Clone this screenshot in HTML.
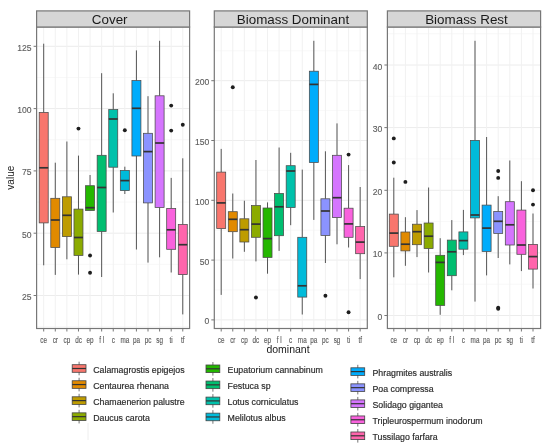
<!DOCTYPE html>
<html><head><meta charset="utf-8"><title>plot</title>
<style>
html,body{margin:0;padding:0;background:#fff;}
body{width:550px;height:448px;overflow:hidden;}
svg{display:block;filter:blur(0.35px);font-family:"Liberation Sans",sans-serif;}
</style></head>
<body>
<svg width="550" height="448" viewBox="0 0 550 448">
<rect width="550" height="448" fill="#fff"/>
<rect x="36.6" y="27" width="153" height="301.5" fill="#fff"/>
<line x1="36.6" x2="189.6" y1="77.45" y2="77.45" stroke="#f3f3f3" stroke-width="0.6"/>
<line x1="36.6" x2="189.6" y1="139.75" y2="139.75" stroke="#f3f3f3" stroke-width="0.6"/>
<line x1="36.6" x2="189.6" y1="202.05" y2="202.05" stroke="#f3f3f3" stroke-width="0.6"/>
<line x1="36.6" x2="189.6" y1="264.35" y2="264.35" stroke="#f3f3f3" stroke-width="0.6"/>
<line x1="36.6" x2="189.6" y1="326.65" y2="326.65" stroke="#f3f3f3" stroke-width="0.6"/>
<line x1="36.6" x2="189.6" y1="46.3" y2="46.3" stroke="#ececec" stroke-width="1"/>
<line x1="36.6" x2="189.6" y1="108.6" y2="108.6" stroke="#ececec" stroke-width="1"/>
<line x1="36.6" x2="189.6" y1="170.9" y2="170.9" stroke="#ececec" stroke-width="1"/>
<line x1="36.6" x2="189.6" y1="233.2" y2="233.2" stroke="#ececec" stroke-width="1"/>
<line x1="36.6" x2="189.6" y1="295.5" y2="295.5" stroke="#ececec" stroke-width="1"/>
<line x1="43.7" x2="43.7" y1="27" y2="328.5" stroke="#f1f1f1" stroke-width="1"/>
<line x1="55.29" x2="55.29" y1="27" y2="328.5" stroke="#f1f1f1" stroke-width="1"/>
<line x1="66.88" x2="66.88" y1="27" y2="328.5" stroke="#f1f1f1" stroke-width="1"/>
<line x1="78.47" x2="78.47" y1="27" y2="328.5" stroke="#f1f1f1" stroke-width="1"/>
<line x1="90.06" x2="90.06" y1="27" y2="328.5" stroke="#f1f1f1" stroke-width="1"/>
<line x1="101.65" x2="101.65" y1="27" y2="328.5" stroke="#f1f1f1" stroke-width="1"/>
<line x1="113.24" x2="113.24" y1="27" y2="328.5" stroke="#f1f1f1" stroke-width="1"/>
<line x1="124.83" x2="124.83" y1="27" y2="328.5" stroke="#f1f1f1" stroke-width="1"/>
<line x1="136.42" x2="136.42" y1="27" y2="328.5" stroke="#f1f1f1" stroke-width="1"/>
<line x1="148.01" x2="148.01" y1="27" y2="328.5" stroke="#f1f1f1" stroke-width="1"/>
<line x1="159.6" x2="159.6" y1="27" y2="328.5" stroke="#f1f1f1" stroke-width="1"/>
<line x1="171.19" x2="171.19" y1="27" y2="328.5" stroke="#f1f1f1" stroke-width="1"/>
<line x1="182.78" x2="182.78" y1="27" y2="328.5" stroke="#f1f1f1" stroke-width="1"/>
<line x1="43.7" x2="43.7" y1="43.7" y2="112.5" stroke="#555" stroke-width="1"/>
<line x1="43.7" x2="43.7" y1="222.9" y2="265.3" stroke="#555" stroke-width="1"/>
<rect x="39.2" y="112.5" width="9" height="110.4" fill="#F8766D" stroke="#4a4a4a" stroke-width="0.75"/>
<line x1="39.2" x2="48.2" y1="167.8" y2="167.8" stroke="#333" stroke-width="1.7"/>
<line x1="55.29" x2="55.29" y1="162.7" y2="198.3" stroke="#555" stroke-width="1"/>
<line x1="55.29" x2="55.29" y1="247.4" y2="274.9" stroke="#555" stroke-width="1"/>
<rect x="50.79" y="198.3" width="9" height="49.1" fill="#E18A00" stroke="#4a4a4a" stroke-width="0.75"/>
<line x1="50.79" x2="59.79" y1="220" y2="220" stroke="#333" stroke-width="1.7"/>
<line x1="66.88" x2="66.88" y1="141.5" y2="196.8" stroke="#555" stroke-width="1"/>
<line x1="66.88" x2="66.88" y1="236.6" y2="259.3" stroke="#555" stroke-width="1"/>
<rect x="62.38" y="196.8" width="9" height="39.8" fill="#BE9C00" stroke="#4a4a4a" stroke-width="0.75"/>
<line x1="62.38" x2="71.38" y1="215.3" y2="215.3" stroke="#333" stroke-width="1.7"/>
<line x1="78.47" x2="78.47" y1="155.6" y2="209.1" stroke="#555" stroke-width="1"/>
<line x1="78.47" x2="78.47" y1="255.4" y2="274.6" stroke="#555" stroke-width="1"/>
<rect x="73.97" y="209.1" width="9" height="46.3" fill="#8CAB00" stroke="#4a4a4a" stroke-width="0.75"/>
<line x1="73.97" x2="82.97" y1="237.5" y2="237.5" stroke="#333" stroke-width="1.7"/>
<circle cx="78.47" cy="128.6" r="1.95" fill="#1e1e1e"/>
<line x1="90.06" x2="90.06" y1="175" y2="185.7" stroke="#555" stroke-width="1"/>
<line x1="90.06" x2="90.06" y1="210.5" y2="210.5" stroke="#555" stroke-width="1"/>
<rect x="85.56" y="185.7" width="9" height="24.8" fill="#24B700" stroke="#4a4a4a" stroke-width="0.75"/>
<line x1="85.56" x2="94.56" y1="207.7" y2="207.7" stroke="#333" stroke-width="1.7"/>
<circle cx="90.06" cy="255.5" r="1.95" fill="#1e1e1e"/>
<circle cx="90.06" cy="272.8" r="1.95" fill="#1e1e1e"/>
<line x1="101.65" x2="101.65" y1="73.2" y2="155.3" stroke="#555" stroke-width="1"/>
<line x1="101.65" x2="101.65" y1="231.4" y2="277" stroke="#555" stroke-width="1"/>
<rect x="97.15" y="155.3" width="9" height="76.1" fill="#00BE70" stroke="#4a4a4a" stroke-width="0.75"/>
<line x1="97.15" x2="106.15" y1="187.5" y2="187.5" stroke="#333" stroke-width="1.7"/>
<line x1="113.24" x2="113.24" y1="93.3" y2="109.6" stroke="#555" stroke-width="1"/>
<line x1="113.24" x2="113.24" y1="167.2" y2="212.5" stroke="#555" stroke-width="1"/>
<rect x="108.74" y="109.6" width="9" height="57.6" fill="#00C1AB" stroke="#4a4a4a" stroke-width="0.75"/>
<line x1="108.74" x2="117.74" y1="119" y2="119" stroke="#333" stroke-width="1.7"/>
<line x1="124.83" x2="124.83" y1="166.7" y2="170.5" stroke="#555" stroke-width="1"/>
<line x1="124.83" x2="124.83" y1="190.6" y2="194" stroke="#555" stroke-width="1"/>
<rect x="120.33" y="170.5" width="9" height="20.1" fill="#00BBDA" stroke="#4a4a4a" stroke-width="0.75"/>
<line x1="120.33" x2="129.33" y1="180.6" y2="180.6" stroke="#333" stroke-width="1.7"/>
<circle cx="124.83" cy="130.3" r="1.95" fill="#1e1e1e"/>
<line x1="136.42" x2="136.42" y1="50.4" y2="80.6" stroke="#555" stroke-width="1"/>
<line x1="136.42" x2="136.42" y1="156" y2="249.5" stroke="#555" stroke-width="1"/>
<rect x="131.92" y="80.6" width="9" height="75.4" fill="#00ACFC" stroke="#4a4a4a" stroke-width="0.75"/>
<line x1="131.92" x2="140.92" y1="108.3" y2="108.3" stroke="#333" stroke-width="1.7"/>
<line x1="148.01" x2="148.01" y1="96.2" y2="133.3" stroke="#555" stroke-width="1"/>
<line x1="148.01" x2="148.01" y1="202.9" y2="262.6" stroke="#555" stroke-width="1"/>
<rect x="143.51" y="133.3" width="9" height="69.6" fill="#8B93FF" stroke="#4a4a4a" stroke-width="0.75"/>
<line x1="143.51" x2="152.51" y1="151.6" y2="151.6" stroke="#333" stroke-width="1.7"/>
<line x1="159.6" x2="159.6" y1="40.8" y2="95.8" stroke="#555" stroke-width="1"/>
<line x1="159.6" x2="159.6" y1="207.4" y2="257.3" stroke="#555" stroke-width="1"/>
<rect x="155.1" y="95.8" width="9" height="111.6" fill="#D575FE" stroke="#4a4a4a" stroke-width="0.75"/>
<line x1="155.1" x2="164.1" y1="143" y2="143" stroke="#333" stroke-width="1.7"/>
<line x1="171.19" x2="171.19" y1="177.9" y2="208.5" stroke="#555" stroke-width="1"/>
<line x1="171.19" x2="171.19" y1="249.3" y2="272.5" stroke="#555" stroke-width="1"/>
<rect x="166.69" y="208.5" width="9" height="40.8" fill="#F962DD" stroke="#4a4a4a" stroke-width="0.75"/>
<line x1="166.69" x2="175.69" y1="229.8" y2="229.8" stroke="#333" stroke-width="1.7"/>
<circle cx="171.19" cy="105.6" r="1.95" fill="#1e1e1e"/>
<circle cx="171.19" cy="130.6" r="1.95" fill="#1e1e1e"/>
<line x1="182.78" x2="182.78" y1="158.3" y2="224.5" stroke="#555" stroke-width="1"/>
<line x1="182.78" x2="182.78" y1="274.6" y2="314.4" stroke="#555" stroke-width="1"/>
<rect x="178.28" y="224.5" width="9" height="50.1" fill="#FF65AC" stroke="#4a4a4a" stroke-width="0.75"/>
<line x1="178.28" x2="187.28" y1="244.7" y2="244.7" stroke="#333" stroke-width="1.7"/>
<circle cx="182.78" cy="124.8" r="1.95" fill="#1e1e1e"/>
<rect x="36.6" y="27" width="153" height="301.5" fill="none" stroke="#777777" stroke-width="1.2"/>
<rect x="36.6" y="10.9" width="153" height="16.1" fill="#d6d6d6" stroke="#777777" stroke-width="1.2"/>
<text x="109.7" y="23.5" font-size="13.4" text-anchor="middle" fill="#1a1a1a">Cover</text>
<line x1="33.6" x2="36.6" y1="46.3" y2="46.3" stroke="#777777" stroke-width="1"/>
<text x="31.6" y="50.8" font-size="8.6" text-anchor="end" fill="#5c5c5c" stroke="#5c5c5c" stroke-width="0.12">125</text>
<line x1="33.6" x2="36.6" y1="108.6" y2="108.6" stroke="#777777" stroke-width="1"/>
<text x="31.6" y="113.1" font-size="8.6" text-anchor="end" fill="#5c5c5c" stroke="#5c5c5c" stroke-width="0.12">100</text>
<line x1="33.6" x2="36.6" y1="170.9" y2="170.9" stroke="#777777" stroke-width="1"/>
<text x="31.6" y="175.4" font-size="8.6" text-anchor="end" fill="#5c5c5c" stroke="#5c5c5c" stroke-width="0.12">75</text>
<line x1="33.6" x2="36.6" y1="233.2" y2="233.2" stroke="#777777" stroke-width="1"/>
<text x="31.6" y="237.7" font-size="8.6" text-anchor="end" fill="#5c5c5c" stroke="#5c5c5c" stroke-width="0.12">50</text>
<line x1="33.6" x2="36.6" y1="295.5" y2="295.5" stroke="#777777" stroke-width="1"/>
<text x="31.6" y="300" font-size="8.6" text-anchor="end" fill="#5c5c5c" stroke="#5c5c5c" stroke-width="0.12">25</text>
<line x1="43.7" x2="43.7" y1="328.5" y2="331.5" stroke="#777777" stroke-width="1"/>
<text transform="translate(43.7 343.1) scale(0.72 1)" font-size="8.8" text-anchor="middle" fill="#5c5c5c" stroke="#5c5c5c" stroke-width="0.15">ce</text>
<line x1="55.29" x2="55.29" y1="328.5" y2="331.5" stroke="#777777" stroke-width="1"/>
<text transform="translate(55.29 343.1) scale(0.72 1)" font-size="8.8" text-anchor="middle" fill="#5c5c5c" stroke="#5c5c5c" stroke-width="0.15">cr</text>
<line x1="66.88" x2="66.88" y1="328.5" y2="331.5" stroke="#777777" stroke-width="1"/>
<text transform="translate(66.88 343.1) scale(0.72 1)" font-size="8.8" text-anchor="middle" fill="#5c5c5c" stroke="#5c5c5c" stroke-width="0.15">cp</text>
<line x1="78.47" x2="78.47" y1="328.5" y2="331.5" stroke="#777777" stroke-width="1"/>
<text transform="translate(78.47 343.1) scale(0.72 1)" font-size="8.8" text-anchor="middle" fill="#5c5c5c" stroke="#5c5c5c" stroke-width="0.15">dc</text>
<line x1="90.06" x2="90.06" y1="328.5" y2="331.5" stroke="#777777" stroke-width="1"/>
<text transform="translate(90.06 343.1) scale(0.72 1)" font-size="8.8" text-anchor="middle" fill="#5c5c5c" stroke="#5c5c5c" stroke-width="0.15">ep</text>
<line x1="101.65" x2="101.65" y1="328.5" y2="331.5" stroke="#777777" stroke-width="1"/>
<text transform="translate(101.65 343.1) scale(0.72 1)" font-size="8.8" text-anchor="middle" fill="#5c5c5c" stroke="#5c5c5c" stroke-width="0.15">f l</text>
<line x1="113.24" x2="113.24" y1="328.5" y2="331.5" stroke="#777777" stroke-width="1"/>
<text transform="translate(113.24 343.1) scale(0.72 1)" font-size="8.8" text-anchor="middle" fill="#5c5c5c" stroke="#5c5c5c" stroke-width="0.15">c</text>
<line x1="124.83" x2="124.83" y1="328.5" y2="331.5" stroke="#777777" stroke-width="1"/>
<text transform="translate(124.83 343.1) scale(0.72 1)" font-size="8.8" text-anchor="middle" fill="#5c5c5c" stroke="#5c5c5c" stroke-width="0.15">ma</text>
<line x1="136.42" x2="136.42" y1="328.5" y2="331.5" stroke="#777777" stroke-width="1"/>
<text transform="translate(136.42 343.1) scale(0.72 1)" font-size="8.8" text-anchor="middle" fill="#5c5c5c" stroke="#5c5c5c" stroke-width="0.15">pa</text>
<line x1="148.01" x2="148.01" y1="328.5" y2="331.5" stroke="#777777" stroke-width="1"/>
<text transform="translate(148.01 343.1) scale(0.72 1)" font-size="8.8" text-anchor="middle" fill="#5c5c5c" stroke="#5c5c5c" stroke-width="0.15">pc</text>
<line x1="159.6" x2="159.6" y1="328.5" y2="331.5" stroke="#777777" stroke-width="1"/>
<text transform="translate(159.6 343.1) scale(0.72 1)" font-size="8.8" text-anchor="middle" fill="#5c5c5c" stroke="#5c5c5c" stroke-width="0.15">sg</text>
<line x1="171.19" x2="171.19" y1="328.5" y2="331.5" stroke="#777777" stroke-width="1"/>
<text transform="translate(171.19 343.1) scale(0.72 1)" font-size="8.8" text-anchor="middle" fill="#5c5c5c" stroke="#5c5c5c" stroke-width="0.15">ti</text>
<line x1="182.78" x2="182.78" y1="328.5" y2="331.5" stroke="#777777" stroke-width="1"/>
<text transform="translate(182.78 343.1) scale(0.72 1)" font-size="8.8" text-anchor="middle" fill="#5c5c5c" stroke="#5c5c5c" stroke-width="0.15">tf</text>
<rect x="214.3" y="27" width="153" height="301.5" fill="#fff"/>
<line x1="214.3" x2="367.3" y1="50.8" y2="50.8" stroke="#f3f3f3" stroke-width="0.6"/>
<line x1="214.3" x2="367.3" y1="110.6" y2="110.6" stroke="#f3f3f3" stroke-width="0.6"/>
<line x1="214.3" x2="367.3" y1="170.4" y2="170.4" stroke="#f3f3f3" stroke-width="0.6"/>
<line x1="214.3" x2="367.3" y1="230.2" y2="230.2" stroke="#f3f3f3" stroke-width="0.6"/>
<line x1="214.3" x2="367.3" y1="290" y2="290" stroke="#f3f3f3" stroke-width="0.6"/>
<line x1="214.3" x2="367.3" y1="80.7" y2="80.7" stroke="#ececec" stroke-width="1"/>
<line x1="214.3" x2="367.3" y1="140.5" y2="140.5" stroke="#ececec" stroke-width="1"/>
<line x1="214.3" x2="367.3" y1="200.3" y2="200.3" stroke="#ececec" stroke-width="1"/>
<line x1="214.3" x2="367.3" y1="260.1" y2="260.1" stroke="#ececec" stroke-width="1"/>
<line x1="214.3" x2="367.3" y1="319.9" y2="319.9" stroke="#ececec" stroke-width="1"/>
<line x1="221.2" x2="221.2" y1="27" y2="328.5" stroke="#f1f1f1" stroke-width="1"/>
<line x1="232.78" x2="232.78" y1="27" y2="328.5" stroke="#f1f1f1" stroke-width="1"/>
<line x1="244.36" x2="244.36" y1="27" y2="328.5" stroke="#f1f1f1" stroke-width="1"/>
<line x1="255.94" x2="255.94" y1="27" y2="328.5" stroke="#f1f1f1" stroke-width="1"/>
<line x1="267.52" x2="267.52" y1="27" y2="328.5" stroke="#f1f1f1" stroke-width="1"/>
<line x1="279.1" x2="279.1" y1="27" y2="328.5" stroke="#f1f1f1" stroke-width="1"/>
<line x1="290.68" x2="290.68" y1="27" y2="328.5" stroke="#f1f1f1" stroke-width="1"/>
<line x1="302.26" x2="302.26" y1="27" y2="328.5" stroke="#f1f1f1" stroke-width="1"/>
<line x1="313.84" x2="313.84" y1="27" y2="328.5" stroke="#f1f1f1" stroke-width="1"/>
<line x1="325.42" x2="325.42" y1="27" y2="328.5" stroke="#f1f1f1" stroke-width="1"/>
<line x1="337" x2="337" y1="27" y2="328.5" stroke="#f1f1f1" stroke-width="1"/>
<line x1="348.58" x2="348.58" y1="27" y2="328.5" stroke="#f1f1f1" stroke-width="1"/>
<line x1="360.16" x2="360.16" y1="27" y2="328.5" stroke="#f1f1f1" stroke-width="1"/>
<line x1="221.2" x2="221.2" y1="148.9" y2="172.1" stroke="#555" stroke-width="1"/>
<line x1="221.2" x2="221.2" y1="228.6" y2="294.9" stroke="#555" stroke-width="1"/>
<rect x="216.7" y="172.1" width="9" height="56.5" fill="#F8766D" stroke="#4a4a4a" stroke-width="0.75"/>
<line x1="216.7" x2="225.7" y1="202.9" y2="202.9" stroke="#333" stroke-width="1.7"/>
<line x1="232.78" x2="232.78" y1="193.5" y2="211.7" stroke="#555" stroke-width="1"/>
<line x1="232.78" x2="232.78" y1="231.7" y2="258.5" stroke="#555" stroke-width="1"/>
<rect x="228.28" y="211.7" width="9" height="20" fill="#E18A00" stroke="#4a4a4a" stroke-width="0.75"/>
<line x1="228.28" x2="237.28" y1="219.3" y2="219.3" stroke="#333" stroke-width="1.7"/>
<circle cx="232.78" cy="87.3" r="1.95" fill="#1e1e1e"/>
<line x1="244.36" x2="244.36" y1="200.7" y2="218.8" stroke="#555" stroke-width="1"/>
<line x1="244.36" x2="244.36" y1="242" y2="251.8" stroke="#555" stroke-width="1"/>
<rect x="239.86" y="218.8" width="9" height="23.2" fill="#BE9C00" stroke="#4a4a4a" stroke-width="0.75"/>
<line x1="239.86" x2="248.86" y1="229.7" y2="229.7" stroke="#333" stroke-width="1.7"/>
<line x1="255.94" x2="255.94" y1="160" y2="205.6" stroke="#555" stroke-width="1"/>
<line x1="255.94" x2="255.94" y1="237.3" y2="261.4" stroke="#555" stroke-width="1"/>
<rect x="251.44" y="205.6" width="9" height="31.7" fill="#8CAB00" stroke="#4a4a4a" stroke-width="0.75"/>
<line x1="251.44" x2="260.44" y1="224.1" y2="224.1" stroke="#333" stroke-width="1.7"/>
<circle cx="255.94" cy="297.5" r="1.95" fill="#1e1e1e"/>
<line x1="267.52" x2="267.52" y1="202.4" y2="208" stroke="#555" stroke-width="1"/>
<line x1="267.52" x2="267.52" y1="257.4" y2="273.7" stroke="#555" stroke-width="1"/>
<rect x="263.02" y="208" width="9" height="49.4" fill="#24B700" stroke="#4a4a4a" stroke-width="0.75"/>
<line x1="263.02" x2="272.02" y1="238.6" y2="238.6" stroke="#333" stroke-width="1.7"/>
<line x1="279.1" x2="279.1" y1="147.5" y2="193.5" stroke="#555" stroke-width="1"/>
<line x1="279.1" x2="279.1" y1="235.7" y2="250.9" stroke="#555" stroke-width="1"/>
<rect x="274.6" y="193.5" width="9" height="42.2" fill="#00BE70" stroke="#4a4a4a" stroke-width="0.75"/>
<line x1="274.6" x2="283.6" y1="206.8" y2="206.8" stroke="#333" stroke-width="1.7"/>
<line x1="290.68" x2="290.68" y1="152.8" y2="165.7" stroke="#555" stroke-width="1"/>
<line x1="290.68" x2="290.68" y1="207.5" y2="225.2" stroke="#555" stroke-width="1"/>
<rect x="286.18" y="165.7" width="9" height="41.8" fill="#00C1AB" stroke="#4a4a4a" stroke-width="0.75"/>
<line x1="286.18" x2="295.18" y1="171" y2="171" stroke="#333" stroke-width="1.7"/>
<line x1="302.26" x2="302.26" y1="169.6" y2="237.3" stroke="#555" stroke-width="1"/>
<line x1="302.26" x2="302.26" y1="297.1" y2="314.5" stroke="#555" stroke-width="1"/>
<rect x="297.76" y="237.3" width="9" height="59.8" fill="#00BBDA" stroke="#4a4a4a" stroke-width="0.75"/>
<line x1="297.76" x2="306.76" y1="285.8" y2="285.8" stroke="#333" stroke-width="1.7"/>
<line x1="313.84" x2="313.84" y1="40.8" y2="71.2" stroke="#555" stroke-width="1"/>
<line x1="313.84" x2="313.84" y1="162.4" y2="219.9" stroke="#555" stroke-width="1"/>
<rect x="309.34" y="71.2" width="9" height="91.2" fill="#00ACFC" stroke="#4a4a4a" stroke-width="0.75"/>
<line x1="309.34" x2="318.34" y1="84.4" y2="84.4" stroke="#333" stroke-width="1.7"/>
<line x1="325.42" x2="325.42" y1="151.3" y2="198.8" stroke="#555" stroke-width="1"/>
<line x1="325.42" x2="325.42" y1="235.4" y2="263" stroke="#555" stroke-width="1"/>
<rect x="320.92" y="198.8" width="9" height="36.6" fill="#8B93FF" stroke="#4a4a4a" stroke-width="0.75"/>
<line x1="320.92" x2="329.92" y1="211" y2="211" stroke="#333" stroke-width="1.7"/>
<circle cx="325.42" cy="295.7" r="1.95" fill="#1e1e1e"/>
<line x1="337" x2="337" y1="123.4" y2="155.3" stroke="#555" stroke-width="1"/>
<line x1="337" x2="337" y1="217.6" y2="244.3" stroke="#555" stroke-width="1"/>
<rect x="332.5" y="155.3" width="9" height="62.3" fill="#D575FE" stroke="#4a4a4a" stroke-width="0.75"/>
<line x1="332.5" x2="341.5" y1="197.7" y2="197.7" stroke="#333" stroke-width="1.7"/>
<line x1="348.58" x2="348.58" y1="165.1" y2="208.2" stroke="#555" stroke-width="1"/>
<line x1="348.58" x2="348.58" y1="237.3" y2="247.5" stroke="#555" stroke-width="1"/>
<rect x="344.08" y="208.2" width="9" height="29.1" fill="#F962DD" stroke="#4a4a4a" stroke-width="0.75"/>
<line x1="344.08" x2="353.08" y1="223.9" y2="223.9" stroke="#333" stroke-width="1.7"/>
<circle cx="348.58" cy="154.6" r="1.95" fill="#1e1e1e"/>
<circle cx="348.58" cy="312.3" r="1.95" fill="#1e1e1e"/>
<line x1="360.16" x2="360.16" y1="187" y2="226.6" stroke="#555" stroke-width="1"/>
<line x1="360.16" x2="360.16" y1="253.7" y2="279.1" stroke="#555" stroke-width="1"/>
<rect x="355.66" y="226.6" width="9" height="27.1" fill="#FF65AC" stroke="#4a4a4a" stroke-width="0.75"/>
<line x1="355.66" x2="364.66" y1="242.1" y2="242.1" stroke="#333" stroke-width="1.7"/>
<rect x="214.3" y="27" width="153" height="301.5" fill="none" stroke="#777777" stroke-width="1.2"/>
<rect x="214.3" y="10.9" width="153" height="16.1" fill="#d6d6d6" stroke="#777777" stroke-width="1.2"/>
<text x="293" y="23.5" font-size="13.4" text-anchor="middle" fill="#1a1a1a">Biomass Dominant</text>
<line x1="211.3" x2="214.3" y1="80.7" y2="80.7" stroke="#777777" stroke-width="1"/>
<text x="209.3" y="85.2" font-size="8.6" text-anchor="end" fill="#5c5c5c" stroke="#5c5c5c" stroke-width="0.12">200</text>
<line x1="211.3" x2="214.3" y1="140.5" y2="140.5" stroke="#777777" stroke-width="1"/>
<text x="209.3" y="145" font-size="8.6" text-anchor="end" fill="#5c5c5c" stroke="#5c5c5c" stroke-width="0.12">150</text>
<line x1="211.3" x2="214.3" y1="200.3" y2="200.3" stroke="#777777" stroke-width="1"/>
<text x="209.3" y="204.8" font-size="8.6" text-anchor="end" fill="#5c5c5c" stroke="#5c5c5c" stroke-width="0.12">100</text>
<line x1="211.3" x2="214.3" y1="260.1" y2="260.1" stroke="#777777" stroke-width="1"/>
<text x="209.3" y="264.6" font-size="8.6" text-anchor="end" fill="#5c5c5c" stroke="#5c5c5c" stroke-width="0.12">50</text>
<line x1="211.3" x2="214.3" y1="319.9" y2="319.9" stroke="#777777" stroke-width="1"/>
<text x="209.3" y="324.4" font-size="8.6" text-anchor="end" fill="#5c5c5c" stroke="#5c5c5c" stroke-width="0.12">0</text>
<line x1="221.2" x2="221.2" y1="328.5" y2="331.5" stroke="#777777" stroke-width="1"/>
<text transform="translate(221.2 343.1) scale(0.72 1)" font-size="8.8" text-anchor="middle" fill="#5c5c5c" stroke="#5c5c5c" stroke-width="0.15">ce</text>
<line x1="232.78" x2="232.78" y1="328.5" y2="331.5" stroke="#777777" stroke-width="1"/>
<text transform="translate(232.78 343.1) scale(0.72 1)" font-size="8.8" text-anchor="middle" fill="#5c5c5c" stroke="#5c5c5c" stroke-width="0.15">cr</text>
<line x1="244.36" x2="244.36" y1="328.5" y2="331.5" stroke="#777777" stroke-width="1"/>
<text transform="translate(244.36 343.1) scale(0.72 1)" font-size="8.8" text-anchor="middle" fill="#5c5c5c" stroke="#5c5c5c" stroke-width="0.15">cp</text>
<line x1="255.94" x2="255.94" y1="328.5" y2="331.5" stroke="#777777" stroke-width="1"/>
<text transform="translate(255.94 343.1) scale(0.72 1)" font-size="8.8" text-anchor="middle" fill="#5c5c5c" stroke="#5c5c5c" stroke-width="0.15">dc</text>
<line x1="267.52" x2="267.52" y1="328.5" y2="331.5" stroke="#777777" stroke-width="1"/>
<text transform="translate(267.52 343.1) scale(0.72 1)" font-size="8.8" text-anchor="middle" fill="#5c5c5c" stroke="#5c5c5c" stroke-width="0.15">ep</text>
<line x1="279.1" x2="279.1" y1="328.5" y2="331.5" stroke="#777777" stroke-width="1"/>
<text transform="translate(279.1 343.1) scale(0.72 1)" font-size="8.8" text-anchor="middle" fill="#5c5c5c" stroke="#5c5c5c" stroke-width="0.15">f l</text>
<line x1="290.68" x2="290.68" y1="328.5" y2="331.5" stroke="#777777" stroke-width="1"/>
<text transform="translate(290.68 343.1) scale(0.72 1)" font-size="8.8" text-anchor="middle" fill="#5c5c5c" stroke="#5c5c5c" stroke-width="0.15">c</text>
<line x1="302.26" x2="302.26" y1="328.5" y2="331.5" stroke="#777777" stroke-width="1"/>
<text transform="translate(302.26 343.1) scale(0.72 1)" font-size="8.8" text-anchor="middle" fill="#5c5c5c" stroke="#5c5c5c" stroke-width="0.15">ma</text>
<line x1="313.84" x2="313.84" y1="328.5" y2="331.5" stroke="#777777" stroke-width="1"/>
<text transform="translate(313.84 343.1) scale(0.72 1)" font-size="8.8" text-anchor="middle" fill="#5c5c5c" stroke="#5c5c5c" stroke-width="0.15">pa</text>
<line x1="325.42" x2="325.42" y1="328.5" y2="331.5" stroke="#777777" stroke-width="1"/>
<text transform="translate(325.42 343.1) scale(0.72 1)" font-size="8.8" text-anchor="middle" fill="#5c5c5c" stroke="#5c5c5c" stroke-width="0.15">pc</text>
<line x1="337" x2="337" y1="328.5" y2="331.5" stroke="#777777" stroke-width="1"/>
<text transform="translate(337 343.1) scale(0.72 1)" font-size="8.8" text-anchor="middle" fill="#5c5c5c" stroke="#5c5c5c" stroke-width="0.15">sg</text>
<line x1="348.58" x2="348.58" y1="328.5" y2="331.5" stroke="#777777" stroke-width="1"/>
<text transform="translate(348.58 343.1) scale(0.72 1)" font-size="8.8" text-anchor="middle" fill="#5c5c5c" stroke="#5c5c5c" stroke-width="0.15">ti</text>
<line x1="360.16" x2="360.16" y1="328.5" y2="331.5" stroke="#777777" stroke-width="1"/>
<text transform="translate(360.16 343.1) scale(0.72 1)" font-size="8.8" text-anchor="middle" fill="#5c5c5c" stroke="#5c5c5c" stroke-width="0.15">tf</text>
<rect x="387.4" y="27" width="153.2" height="301.5" fill="#fff"/>
<line x1="387.4" x2="540.6" y1="33.7" y2="33.7" stroke="#f3f3f3" stroke-width="0.6"/>
<line x1="387.4" x2="540.6" y1="96.3" y2="96.3" stroke="#f3f3f3" stroke-width="0.6"/>
<line x1="387.4" x2="540.6" y1="158.9" y2="158.9" stroke="#f3f3f3" stroke-width="0.6"/>
<line x1="387.4" x2="540.6" y1="221.6" y2="221.6" stroke="#f3f3f3" stroke-width="0.6"/>
<line x1="387.4" x2="540.6" y1="284.2" y2="284.2" stroke="#f3f3f3" stroke-width="0.6"/>
<line x1="387.4" x2="540.6" y1="65" y2="65" stroke="#ececec" stroke-width="1"/>
<line x1="387.4" x2="540.6" y1="127.6" y2="127.6" stroke="#ececec" stroke-width="1"/>
<line x1="387.4" x2="540.6" y1="190.3" y2="190.3" stroke="#ececec" stroke-width="1"/>
<line x1="387.4" x2="540.6" y1="252.9" y2="252.9" stroke="#ececec" stroke-width="1"/>
<line x1="387.4" x2="540.6" y1="315.5" y2="315.5" stroke="#ececec" stroke-width="1"/>
<line x1="393.8" x2="393.8" y1="27" y2="328.5" stroke="#f1f1f1" stroke-width="1"/>
<line x1="405.4" x2="405.4" y1="27" y2="328.5" stroke="#f1f1f1" stroke-width="1"/>
<line x1="417" x2="417" y1="27" y2="328.5" stroke="#f1f1f1" stroke-width="1"/>
<line x1="428.6" x2="428.6" y1="27" y2="328.5" stroke="#f1f1f1" stroke-width="1"/>
<line x1="440.2" x2="440.2" y1="27" y2="328.5" stroke="#f1f1f1" stroke-width="1"/>
<line x1="451.8" x2="451.8" y1="27" y2="328.5" stroke="#f1f1f1" stroke-width="1"/>
<line x1="463.4" x2="463.4" y1="27" y2="328.5" stroke="#f1f1f1" stroke-width="1"/>
<line x1="475" x2="475" y1="27" y2="328.5" stroke="#f1f1f1" stroke-width="1"/>
<line x1="486.6" x2="486.6" y1="27" y2="328.5" stroke="#f1f1f1" stroke-width="1"/>
<line x1="498.2" x2="498.2" y1="27" y2="328.5" stroke="#f1f1f1" stroke-width="1"/>
<line x1="509.8" x2="509.8" y1="27" y2="328.5" stroke="#f1f1f1" stroke-width="1"/>
<line x1="521.4" x2="521.4" y1="27" y2="328.5" stroke="#f1f1f1" stroke-width="1"/>
<line x1="533" x2="533" y1="27" y2="328.5" stroke="#f1f1f1" stroke-width="1"/>
<line x1="393.8" x2="393.8" y1="177.7" y2="214.1" stroke="#555" stroke-width="1"/>
<line x1="393.8" x2="393.8" y1="246.3" y2="277.3" stroke="#555" stroke-width="1"/>
<rect x="389.3" y="214.1" width="9" height="32.2" fill="#F8766D" stroke="#4a4a4a" stroke-width="0.75"/>
<line x1="389.3" x2="398.3" y1="233.1" y2="233.1" stroke="#333" stroke-width="1.7"/>
<circle cx="393.8" cy="138.4" r="1.95" fill="#1e1e1e"/>
<circle cx="393.8" cy="162.5" r="1.95" fill="#1e1e1e"/>
<line x1="405.4" x2="405.4" y1="217.2" y2="232" stroke="#555" stroke-width="1"/>
<line x1="405.4" x2="405.4" y1="250.9" y2="265.8" stroke="#555" stroke-width="1"/>
<rect x="400.9" y="232" width="9" height="18.9" fill="#E18A00" stroke="#4a4a4a" stroke-width="0.75"/>
<line x1="400.9" x2="409.9" y1="244.2" y2="244.2" stroke="#333" stroke-width="1.7"/>
<circle cx="405.4" cy="181.9" r="1.95" fill="#1e1e1e"/>
<line x1="417" x2="417" y1="210.1" y2="224.2" stroke="#555" stroke-width="1"/>
<line x1="417" x2="417" y1="244.7" y2="257.1" stroke="#555" stroke-width="1"/>
<rect x="412.5" y="224.2" width="9" height="20.5" fill="#BE9C00" stroke="#4a4a4a" stroke-width="0.75"/>
<line x1="412.5" x2="421.5" y1="231.7" y2="231.7" stroke="#333" stroke-width="1.7"/>
<line x1="428.6" x2="428.6" y1="187.5" y2="223" stroke="#555" stroke-width="1"/>
<line x1="428.6" x2="428.6" y1="248.5" y2="272.5" stroke="#555" stroke-width="1"/>
<rect x="424.1" y="223" width="9" height="25.5" fill="#8CAB00" stroke="#4a4a4a" stroke-width="0.75"/>
<line x1="424.1" x2="433.1" y1="236.2" y2="236.2" stroke="#333" stroke-width="1.7"/>
<line x1="440.2" x2="440.2" y1="238.2" y2="255.3" stroke="#555" stroke-width="1"/>
<line x1="440.2" x2="440.2" y1="305.4" y2="314.8" stroke="#555" stroke-width="1"/>
<rect x="435.7" y="255.3" width="9" height="50.1" fill="#24B700" stroke="#4a4a4a" stroke-width="0.75"/>
<line x1="435.7" x2="444.7" y1="262.4" y2="262.4" stroke="#333" stroke-width="1.7"/>
<line x1="451.8" x2="451.8" y1="220.1" y2="240.1" stroke="#555" stroke-width="1"/>
<line x1="451.8" x2="451.8" y1="275.7" y2="290.3" stroke="#555" stroke-width="1"/>
<rect x="447.3" y="240.1" width="9" height="35.6" fill="#00BE70" stroke="#4a4a4a" stroke-width="0.75"/>
<line x1="447.3" x2="456.3" y1="251.8" y2="251.8" stroke="#333" stroke-width="1.7"/>
<line x1="463.4" x2="463.4" y1="209.9" y2="231.9" stroke="#555" stroke-width="1"/>
<line x1="463.4" x2="463.4" y1="249.2" y2="255.1" stroke="#555" stroke-width="1"/>
<rect x="458.9" y="231.9" width="9" height="17.3" fill="#00C1AB" stroke="#4a4a4a" stroke-width="0.75"/>
<line x1="458.9" x2="467.9" y1="240.6" y2="240.6" stroke="#333" stroke-width="1.7"/>
<line x1="475" x2="475" y1="40.8" y2="140.4" stroke="#555" stroke-width="1"/>
<line x1="475" x2="475" y1="217.9" y2="301.6" stroke="#555" stroke-width="1"/>
<rect x="470.5" y="140.4" width="9" height="77.5" fill="#00BBDA" stroke="#4a4a4a" stroke-width="0.75"/>
<line x1="470.5" x2="479.5" y1="215" y2="215" stroke="#333" stroke-width="1.7"/>
<line x1="486.6" x2="486.6" y1="137" y2="205.1" stroke="#555" stroke-width="1"/>
<line x1="486.6" x2="486.6" y1="251.4" y2="275.4" stroke="#555" stroke-width="1"/>
<rect x="482.1" y="205.1" width="9" height="46.3" fill="#00ACFC" stroke="#4a4a4a" stroke-width="0.75"/>
<line x1="482.1" x2="491.1" y1="228.1" y2="228.1" stroke="#333" stroke-width="1.7"/>
<line x1="498.2" x2="498.2" y1="196.2" y2="211.5" stroke="#555" stroke-width="1"/>
<line x1="498.2" x2="498.2" y1="233.4" y2="258" stroke="#555" stroke-width="1"/>
<rect x="493.7" y="211.5" width="9" height="21.9" fill="#8B93FF" stroke="#4a4a4a" stroke-width="0.75"/>
<line x1="493.7" x2="502.7" y1="221.3" y2="221.3" stroke="#333" stroke-width="1.7"/>
<circle cx="498.2" cy="171" r="1.95" fill="#1e1e1e"/>
<circle cx="498.2" cy="177.9" r="1.95" fill="#1e1e1e"/>
<circle cx="498.2" cy="307.8" r="1.95" fill="#1e1e1e"/>
<circle cx="498.2" cy="308.8" r="1.95" fill="#1e1e1e"/>
<line x1="509.8" x2="509.8" y1="160.5" y2="201.7" stroke="#555" stroke-width="1"/>
<line x1="509.8" x2="509.8" y1="245" y2="264.4" stroke="#555" stroke-width="1"/>
<rect x="505.3" y="201.7" width="9" height="43.3" fill="#D575FE" stroke="#4a4a4a" stroke-width="0.75"/>
<line x1="505.3" x2="514.3" y1="224.8" y2="224.8" stroke="#333" stroke-width="1.7"/>
<line x1="521.4" x2="521.4" y1="181.2" y2="210.1" stroke="#555" stroke-width="1"/>
<line x1="521.4" x2="521.4" y1="254.3" y2="271.1" stroke="#555" stroke-width="1"/>
<rect x="516.9" y="210.1" width="9" height="44.2" fill="#F962DD" stroke="#4a4a4a" stroke-width="0.75"/>
<line x1="516.9" x2="525.9" y1="245" y2="245" stroke="#333" stroke-width="1.7"/>
<line x1="533" x2="533" y1="213.5" y2="244.4" stroke="#555" stroke-width="1"/>
<line x1="533" x2="533" y1="269.1" y2="288.5" stroke="#555" stroke-width="1"/>
<rect x="528.5" y="244.4" width="9" height="24.7" fill="#FF65AC" stroke="#4a4a4a" stroke-width="0.75"/>
<line x1="528.5" x2="537.5" y1="256.6" y2="256.6" stroke="#333" stroke-width="1.7"/>
<circle cx="533" cy="190.2" r="1.95" fill="#1e1e1e"/>
<circle cx="533" cy="204.6" r="1.95" fill="#1e1e1e"/>
<rect x="387.4" y="27" width="153.2" height="301.5" fill="none" stroke="#777777" stroke-width="1.2"/>
<rect x="387.4" y="10.9" width="153.2" height="16.1" fill="#d6d6d6" stroke="#777777" stroke-width="1.2"/>
<text x="466.5" y="23.5" font-size="13.4" text-anchor="middle" fill="#1a1a1a">Biomass Rest</text>
<line x1="384.4" x2="387.4" y1="65" y2="65" stroke="#777777" stroke-width="1"/>
<text x="382.4" y="69.5" font-size="8.6" text-anchor="end" fill="#5c5c5c" stroke="#5c5c5c" stroke-width="0.12">40</text>
<line x1="384.4" x2="387.4" y1="127.6" y2="127.6" stroke="#777777" stroke-width="1"/>
<text x="382.4" y="132.1" font-size="8.6" text-anchor="end" fill="#5c5c5c" stroke="#5c5c5c" stroke-width="0.12">30</text>
<line x1="384.4" x2="387.4" y1="190.3" y2="190.3" stroke="#777777" stroke-width="1"/>
<text x="382.4" y="194.8" font-size="8.6" text-anchor="end" fill="#5c5c5c" stroke="#5c5c5c" stroke-width="0.12">20</text>
<line x1="384.4" x2="387.4" y1="252.9" y2="252.9" stroke="#777777" stroke-width="1"/>
<text x="382.4" y="257.4" font-size="8.6" text-anchor="end" fill="#5c5c5c" stroke="#5c5c5c" stroke-width="0.12">10</text>
<line x1="384.4" x2="387.4" y1="315.5" y2="315.5" stroke="#777777" stroke-width="1"/>
<text x="382.4" y="320" font-size="8.6" text-anchor="end" fill="#5c5c5c" stroke="#5c5c5c" stroke-width="0.12">0</text>
<line x1="393.8" x2="393.8" y1="328.5" y2="331.5" stroke="#777777" stroke-width="1"/>
<text transform="translate(393.8 343.1) scale(0.72 1)" font-size="8.8" text-anchor="middle" fill="#5c5c5c" stroke="#5c5c5c" stroke-width="0.15">ce</text>
<line x1="405.4" x2="405.4" y1="328.5" y2="331.5" stroke="#777777" stroke-width="1"/>
<text transform="translate(405.4 343.1) scale(0.72 1)" font-size="8.8" text-anchor="middle" fill="#5c5c5c" stroke="#5c5c5c" stroke-width="0.15">cr</text>
<line x1="417" x2="417" y1="328.5" y2="331.5" stroke="#777777" stroke-width="1"/>
<text transform="translate(417 343.1) scale(0.72 1)" font-size="8.8" text-anchor="middle" fill="#5c5c5c" stroke="#5c5c5c" stroke-width="0.15">cp</text>
<line x1="428.6" x2="428.6" y1="328.5" y2="331.5" stroke="#777777" stroke-width="1"/>
<text transform="translate(428.6 343.1) scale(0.72 1)" font-size="8.8" text-anchor="middle" fill="#5c5c5c" stroke="#5c5c5c" stroke-width="0.15">dc</text>
<line x1="440.2" x2="440.2" y1="328.5" y2="331.5" stroke="#777777" stroke-width="1"/>
<text transform="translate(440.2 343.1) scale(0.72 1)" font-size="8.8" text-anchor="middle" fill="#5c5c5c" stroke="#5c5c5c" stroke-width="0.15">ep</text>
<line x1="451.8" x2="451.8" y1="328.5" y2="331.5" stroke="#777777" stroke-width="1"/>
<text transform="translate(451.8 343.1) scale(0.72 1)" font-size="8.8" text-anchor="middle" fill="#5c5c5c" stroke="#5c5c5c" stroke-width="0.15">f l</text>
<line x1="463.4" x2="463.4" y1="328.5" y2="331.5" stroke="#777777" stroke-width="1"/>
<text transform="translate(463.4 343.1) scale(0.72 1)" font-size="8.8" text-anchor="middle" fill="#5c5c5c" stroke="#5c5c5c" stroke-width="0.15">c</text>
<line x1="475" x2="475" y1="328.5" y2="331.5" stroke="#777777" stroke-width="1"/>
<text transform="translate(475 343.1) scale(0.72 1)" font-size="8.8" text-anchor="middle" fill="#5c5c5c" stroke="#5c5c5c" stroke-width="0.15">ma</text>
<line x1="486.6" x2="486.6" y1="328.5" y2="331.5" stroke="#777777" stroke-width="1"/>
<text transform="translate(486.6 343.1) scale(0.72 1)" font-size="8.8" text-anchor="middle" fill="#5c5c5c" stroke="#5c5c5c" stroke-width="0.15">pa</text>
<line x1="498.2" x2="498.2" y1="328.5" y2="331.5" stroke="#777777" stroke-width="1"/>
<text transform="translate(498.2 343.1) scale(0.72 1)" font-size="8.8" text-anchor="middle" fill="#5c5c5c" stroke="#5c5c5c" stroke-width="0.15">pc</text>
<line x1="509.8" x2="509.8" y1="328.5" y2="331.5" stroke="#777777" stroke-width="1"/>
<text transform="translate(509.8 343.1) scale(0.72 1)" font-size="8.8" text-anchor="middle" fill="#5c5c5c" stroke="#5c5c5c" stroke-width="0.15">sg</text>
<line x1="521.4" x2="521.4" y1="328.5" y2="331.5" stroke="#777777" stroke-width="1"/>
<text transform="translate(521.4 343.1) scale(0.72 1)" font-size="8.8" text-anchor="middle" fill="#5c5c5c" stroke="#5c5c5c" stroke-width="0.15">ti</text>
<line x1="533" x2="533" y1="328.5" y2="331.5" stroke="#777777" stroke-width="1"/>
<text transform="translate(533 343.1) scale(0.72 1)" font-size="8.8" text-anchor="middle" fill="#5c5c5c" stroke="#5c5c5c" stroke-width="0.15">tf</text>
<text x="288" y="352.7" font-size="10.5" text-anchor="middle" fill="#1a1a1a">dominant</text>
<text transform="translate(13.6 177.7) rotate(-90)" font-size="10" text-anchor="middle" fill="#1a1a1a">value</text>
<line x1="88" x2="88" y1="423" y2="440" stroke="#eeeeee" stroke-width="1"/>
<line x1="79.1" x2="79.1" y1="361.7" y2="375.3" stroke="#666" stroke-width="0.9"/>
<rect x="72.2" y="364.7" width="13.8" height="7.6" fill="#F8766D" stroke="#444444" stroke-width="0.8"/>
<line x1="72.2" x2="86" y1="368.5" y2="368.5" stroke="#333" stroke-width="1.2"/>
<text x="93.2" y="373" font-size="8.8" fill="#2b2b2b" stroke="#2b2b2b" stroke-width="0.18" transform="translate(93.2 368.5) scale(1 0.95) translate(-93.2 -368.5)">Calamagrostis epigejos</text>
<line x1="79.1" x2="79.1" y1="377.75" y2="391.35" stroke="#666" stroke-width="0.9"/>
<rect x="72.2" y="380.75" width="13.8" height="7.6" fill="#E18A00" stroke="#444444" stroke-width="0.8"/>
<line x1="72.2" x2="86" y1="384.55" y2="384.55" stroke="#333" stroke-width="1.2"/>
<text x="93.2" y="389.05" font-size="8.8" fill="#2b2b2b" stroke="#2b2b2b" stroke-width="0.18" transform="translate(93.2 384.55) scale(1 0.95) translate(-93.2 -384.55)">Centaurea rhenana</text>
<line x1="79.1" x2="79.1" y1="393.8" y2="407.4" stroke="#666" stroke-width="0.9"/>
<rect x="72.2" y="396.8" width="13.8" height="7.6" fill="#BE9C00" stroke="#444444" stroke-width="0.8"/>
<line x1="72.2" x2="86" y1="400.6" y2="400.6" stroke="#333" stroke-width="1.2"/>
<text x="93.2" y="405.1" font-size="8.8" fill="#2b2b2b" stroke="#2b2b2b" stroke-width="0.18" transform="translate(93.2 400.6) scale(1 0.95) translate(-93.2 -400.6)">Chamaenerion palustre</text>
<line x1="79.1" x2="79.1" y1="409.85" y2="423.45" stroke="#666" stroke-width="0.9"/>
<rect x="72.2" y="412.85" width="13.8" height="7.6" fill="#8CAB00" stroke="#444444" stroke-width="0.8"/>
<line x1="72.2" x2="86" y1="416.65" y2="416.65" stroke="#333" stroke-width="1.2"/>
<text x="93.2" y="421.15" font-size="8.8" fill="#2b2b2b" stroke="#2b2b2b" stroke-width="0.18" transform="translate(93.2 416.65) scale(1 0.95) translate(-93.2 -416.65)">Daucus carota</text>
<line x1="212.9" x2="212.9" y1="362" y2="375.6" stroke="#666" stroke-width="0.9"/>
<rect x="206" y="365" width="13.8" height="7.6" fill="#24B700" stroke="#444444" stroke-width="0.8"/>
<line x1="206" x2="219.8" y1="368.8" y2="368.8" stroke="#333" stroke-width="1.2"/>
<text x="227.6" y="373.3" font-size="8.8" fill="#2b2b2b" stroke="#2b2b2b" stroke-width="0.18" transform="translate(227.6 368.8) scale(1 0.95) translate(-227.6 -368.8)">Eupatorium cannabinum</text>
<line x1="212.9" x2="212.9" y1="378.05" y2="391.65" stroke="#666" stroke-width="0.9"/>
<rect x="206" y="381.05" width="13.8" height="7.6" fill="#00BE70" stroke="#444444" stroke-width="0.8"/>
<line x1="206" x2="219.8" y1="384.85" y2="384.85" stroke="#333" stroke-width="1.2"/>
<text x="227.6" y="389.35" font-size="8.8" fill="#2b2b2b" stroke="#2b2b2b" stroke-width="0.18" transform="translate(227.6 384.85) scale(1 0.95) translate(-227.6 -384.85)">Festuca sp</text>
<line x1="212.9" x2="212.9" y1="394.1" y2="407.7" stroke="#666" stroke-width="0.9"/>
<rect x="206" y="397.1" width="13.8" height="7.6" fill="#00C1AB" stroke="#444444" stroke-width="0.8"/>
<line x1="206" x2="219.8" y1="400.9" y2="400.9" stroke="#333" stroke-width="1.2"/>
<text x="227.6" y="405.4" font-size="8.8" fill="#2b2b2b" stroke="#2b2b2b" stroke-width="0.18" transform="translate(227.6 400.9) scale(1 0.95) translate(-227.6 -400.9)">Lotus corniculatus</text>
<line x1="212.9" x2="212.9" y1="410.15" y2="423.75" stroke="#666" stroke-width="0.9"/>
<rect x="206" y="413.15" width="13.8" height="7.6" fill="#00BBDA" stroke="#444444" stroke-width="0.8"/>
<line x1="206" x2="219.8" y1="416.95" y2="416.95" stroke="#333" stroke-width="1.2"/>
<text x="227.6" y="421.45" font-size="8.8" fill="#2b2b2b" stroke="#2b2b2b" stroke-width="0.18" transform="translate(227.6 416.95) scale(1 0.95) translate(-227.6 -416.95)">Melilotus albus</text>
<line x1="357.8" x2="357.8" y1="364.8" y2="378.4" stroke="#666" stroke-width="0.9"/>
<rect x="350.9" y="367.8" width="13.8" height="7.6" fill="#00ACFC" stroke="#444444" stroke-width="0.8"/>
<line x1="350.9" x2="364.7" y1="371.6" y2="371.6" stroke="#333" stroke-width="1.2"/>
<text x="372.5" y="376.1" font-size="8.8" fill="#2b2b2b" stroke="#2b2b2b" stroke-width="0.18" transform="translate(372.5 371.6) scale(1 0.95) translate(-372.5 -371.6)">Phragmites australis</text>
<line x1="357.8" x2="357.8" y1="380.85" y2="394.45" stroke="#666" stroke-width="0.9"/>
<rect x="350.9" y="383.85" width="13.8" height="7.6" fill="#8B93FF" stroke="#444444" stroke-width="0.8"/>
<line x1="350.9" x2="364.7" y1="387.65" y2="387.65" stroke="#333" stroke-width="1.2"/>
<text x="372.5" y="392.15" font-size="8.8" fill="#2b2b2b" stroke="#2b2b2b" stroke-width="0.18" transform="translate(372.5 387.65) scale(1 0.95) translate(-372.5 -387.65)">Poa compressa</text>
<line x1="357.8" x2="357.8" y1="396.9" y2="410.5" stroke="#666" stroke-width="0.9"/>
<rect x="350.9" y="399.9" width="13.8" height="7.6" fill="#D575FE" stroke="#444444" stroke-width="0.8"/>
<line x1="350.9" x2="364.7" y1="403.7" y2="403.7" stroke="#333" stroke-width="1.2"/>
<text x="372.5" y="408.2" font-size="8.8" fill="#2b2b2b" stroke="#2b2b2b" stroke-width="0.18" transform="translate(372.5 403.7) scale(1 0.95) translate(-372.5 -403.7)">Solidago gigantea</text>
<line x1="357.8" x2="357.8" y1="412.95" y2="426.55" stroke="#666" stroke-width="0.9"/>
<rect x="350.9" y="415.95" width="13.8" height="7.6" fill="#F962DD" stroke="#444444" stroke-width="0.8"/>
<line x1="350.9" x2="364.7" y1="419.75" y2="419.75" stroke="#333" stroke-width="1.2"/>
<text x="372.5" y="424.25" font-size="8.8" fill="#2b2b2b" stroke="#2b2b2b" stroke-width="0.18" transform="translate(372.5 419.75) scale(1 0.95) translate(-372.5 -419.75)">Tripleurospermum inodorum</text>
<line x1="357.8" x2="357.8" y1="429" y2="442.6" stroke="#666" stroke-width="0.9"/>
<rect x="350.9" y="432" width="13.8" height="7.6" fill="#FF65AC" stroke="#444444" stroke-width="0.8"/>
<line x1="350.9" x2="364.7" y1="435.8" y2="435.8" stroke="#333" stroke-width="1.2"/>
<text x="372.5" y="440.3" font-size="8.8" fill="#2b2b2b" stroke="#2b2b2b" stroke-width="0.18" transform="translate(372.5 435.8) scale(1 0.95) translate(-372.5 -435.8)">Tussilago farfara</text>
</svg>
</body></html>
